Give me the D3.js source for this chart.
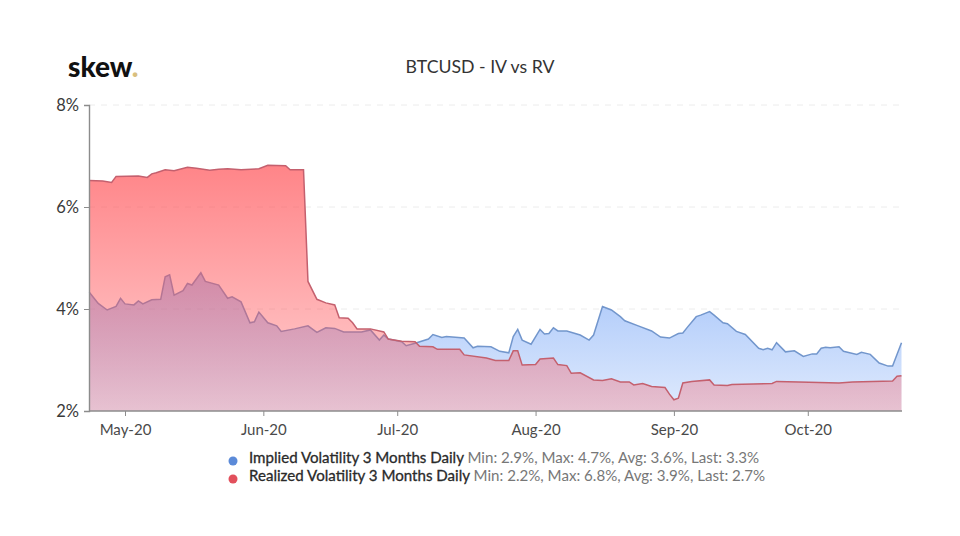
<!DOCTYPE html>
<html>
<head>
<meta charset="utf-8">
<style>
    html, body { margin: 0; padding: 0; background: #fff; }
    svg { display: block; }
    text { font-family: Lato, sans-serif; }
    .domain { stroke: #8c8c8c; stroke-width: 1.4; }
    .tick line { stroke: #8c8c8c; }
    .tick text { font-size: 15px; fill: #4a4a4a; }
    .y-axis .tick text { font-size: 16.5px; fill: #3a3a3a; }
</style>
<script src="https://cdn.jsdelivr.net/npm/d3@7"></script>
</head>
<body>
<div id="chart"></div>
<script>
const ivDates = ["04-23","04-25","04-27","04-29","04-30","05-01","05-03","05-04","05-05","05-07","05-09","05-10","05-11","05-12","05-14","05-15","05-16","05-18","05-19","05-22","05-24","05-25","05-27","05-29","05-30","05-31","06-02","06-04","06-05","06-08","06-11","06-13","06-15","06-17","06-19","06-23","06-25","06-27","06-28","06-29","07-02","07-03","07-05","07-08","07-09","07-11","07-12","07-16","07-18","07-19","07-22","07-24","07-26","07-27","07-28","07-29","07-31","08-02","08-03","08-04","08-05","08-06","08-08","08-11","08-13","08-14","08-16","08-18","08-20","08-21","08-24","08-27","08-29","08-31","09-02","09-03","09-04","09-06","09-07","09-09","09-10","09-12","09-13","09-15","09-17","09-20","09-21","09-22","09-23","09-24","09-26","09-28","09-30","10-02","10-03","10-04","10-05","10-06","10-08","10-09","10-12","10-13","10-15","10-17","10-19","10-20","10-22"];
const ivValues = [4.33,4.11,3.98,4.05,4.21,4.10,4.08,4.16,4.10,4.18,4.19,4.63,4.67,4.27,4.36,4.50,4.47,4.71,4.54,4.47,4.21,4.24,4.14,3.73,3.75,3.94,3.73,3.67,3.56,3.61,3.67,3.54,3.63,3.62,3.55,3.55,3.59,3.39,3.49,3.41,3.36,3.28,3.33,3.41,3.50,3.44,3.46,3.43,3.24,3.27,3.26,3.17,3.14,3.46,3.60,3.39,3.31,3.60,3.51,3.52,3.63,3.57,3.57,3.49,3.39,3.49,4.05,3.98,3.85,3.77,3.67,3.57,3.45,3.43,3.52,3.53,3.64,3.85,3.88,3.95,3.88,3.73,3.71,3.56,3.50,3.23,3.20,3.23,3.20,3.34,3.16,3.18,3.07,3.12,3.12,3.23,3.25,3.24,3.26,3.17,3.11,3.15,3.11,2.94,2.88,2.88,3.34];

const rvDates = ["04-23","04-26","04-28","04-29","05-04","05-06","05-07","05-08","05-10","05-12","05-15","05-17","05-20","05-22","05-24","05-27","05-31","06-02","06-06","06-07","06-10","06-11","06-13","06-15","06-17","06-18","06-20","06-21","06-22","06-25","06-28","06-29","07-02","07-05","07-06","07-09","07-10","07-15","07-16","07-21","07-23","07-26","07-27","07-28","07-29","08-01","08-02","08-05","08-06","08-08","08-09","08-11","08-14","08-16","08-18","08-20","08-22","08-23","08-25","08-27","08-30","08-31","09-01","09-02","09-03","09-05","09-09","09-10","09-13","09-14","09-23","09-24","09-29","10-08","10-11","10-20","10-21","10-22"];
const rvValues = [6.52,6.51,6.48,6.60,6.61,6.58,6.65,6.67,6.73,6.71,6.78,6.76,6.72,6.74,6.75,6.73,6.75,6.82,6.81,6.73,6.73,4.54,4.19,4.12,4.08,3.83,3.82,3.73,3.61,3.61,3.55,3.41,3.37,3.36,3.27,3.26,3.21,3.21,3.10,3.04,2.99,2.99,3.18,3.18,2.90,2.91,3.02,3.04,2.91,2.89,2.74,2.75,2.61,2.60,2.63,2.57,2.57,2.51,2.54,2.48,2.46,2.33,2.22,2.25,2.55,2.58,2.61,2.51,2.50,2.52,2.54,2.58,2.57,2.55,2.57,2.59,2.68,2.69];

const yTicks = [2, 4, 6, 8];
const monthTicks = ["05-01", "06-01", "07-01", "08-01", "09-01", "10-01"];

const legendItems = [
    { name: "Implied Volatility 3 Months Daily", stats: "Min: 2.9%, Max: 4.7%, Avg: 3.6%, Last: 3.3%", color: "#5b8ad8" },
    { name: "Realized Volatility 3 Months Daily", stats: "Min: 2.2%, Max: 6.8%, Avg: 3.9%, Last: 2.7%", color: "#e2505c" }
];

const width = 960;
const height = 536;
const parseDate = d3.utcParse("%Y-%m-%d");
const toDate = s => parseDate("2020-" + s);

const x = d3.scaleUtc()
    .domain([toDate("04-23"), toDate("10-22")])
    .range([89.3, 901.5]);
const y = d3.scaleLinear().domain([2, 8]).range([411, 105]);

const svg = d3.select("#chart").append("svg")
    .attr("width", width)
    .attr("height", height);

// gradients run over the plot height, not each shape
const defs = svg.append("defs");
function addGradient(id, color, y1, y2, a1, a2) {
    const g = defs.append("linearGradient")
        .attr("id", id)
        .attr("gradientUnits", "userSpaceOnUse")
        .attr("x1", 0).attr("x2", 0)
        .attr("y1", y1).attr("y2", y2);
    g.append("stop").attr("offset", 0).attr("stop-color", color).attr("stop-opacity", a1);
    g.append("stop").attr("offset", 1).attr("stop-color", color).attr("stop-opacity", a2);
}
addGradient("ivFill", "rgb(95,150,245)", 272, 411, 0.55, 0.2);
addGradient("rvFill", "rgb(255,80,85)", 165, 411, 0.70, 0.26);

// grid
svg.append("g").selectAll("line")
    .data(yTicks.filter(d => d > 2))
    .enter().append("line")
    .attr("x1", 89).attr("x2", 902)
    .attr("y1", d => y(d)).attr("y2", d => y(d))
    .attr("stroke", "#ececec")
    .attr("stroke-dasharray", "6 6");

const ivData = ivDates.map((d, i) => ({ date: toDate(d), value: ivValues[i] }));
const rvData = rvDates.map((d, i) => ({ date: toDate(d), value: rvValues[i] }));

const area = d3.area().x(d => x(d.date)).y0(y(2)).y1(d => y(d.value));
const line = d3.line().x(d => x(d.date)).y(d => y(d.value));

svg.append("path").attr("d", area(ivData)).attr("fill", "url(#ivFill)");
svg.append("path").attr("d", line(ivData)).attr("fill", "none").attr("stroke", "#7296cc").attr("stroke-width", 1.5);
svg.append("path").attr("d", area(rvData)).attr("fill", "url(#rvFill)");
svg.append("path").attr("d", line(rvData)).attr("fill", "none").attr("stroke", "#c4606e").attr("stroke-width", 1.5);

// axes
svg.append("g")
    .attr("class", "y-axis")
    .attr("transform", "translate(89,0)")
    .call(d3.axisLeft(y).tickValues(yTicks).tickFormat(d => d + "%").tickSize(5).tickPadding(5));

svg.append("g")
    .attr("transform", "translate(0,411)")
    .call(d3.axisBottom(x).tickValues(monthTicks.map(toDate)).tickFormat(d3.utcFormat("%b-%y")).tickSize(5).tickPadding(8))
    .call(g => g.select(".domain").attr("d", "M89,0H902"));

// title and logo
svg.append("text")
    .attr("x", 480).attr("y", 73)
    .attr("text-anchor", "middle")
    .attr("font-size", 17.7)
    .attr("fill", "#333")
    .text("BTCUSD - IV vs RV");

const logo = svg.append("text")
    .attr("x", 68).attr("y", 77)
    .attr("font-size", 28)
    .attr("font-weight", 900)
    .attr("fill", "#111")
    .text("skew");
logo.append("tspan").attr("fill", "#d9bf7e").text(".");

// legend
const legend = svg.append("g").selectAll("g")
    .data(legendItems)
    .enter().append("g")
    .attr("transform", (d, i) => `translate(233,${461 + i * 18})`);

legend.append("circle").attr("r", 4.5).attr("fill", d => d.color);

const label = legend.append("text")
    .attr("x", 16).attr("y", 2)
    .attr("font-size", 15.1);
label.append("tspan").attr("fill", "#2a2a2a").attr("stroke", "#2a2a2a").attr("stroke-width", 0.3).text(d => d.name + " ");
label.append("tspan").attr("fill", "#777").text(d => d.stats);
</script>
</body>
</html>
